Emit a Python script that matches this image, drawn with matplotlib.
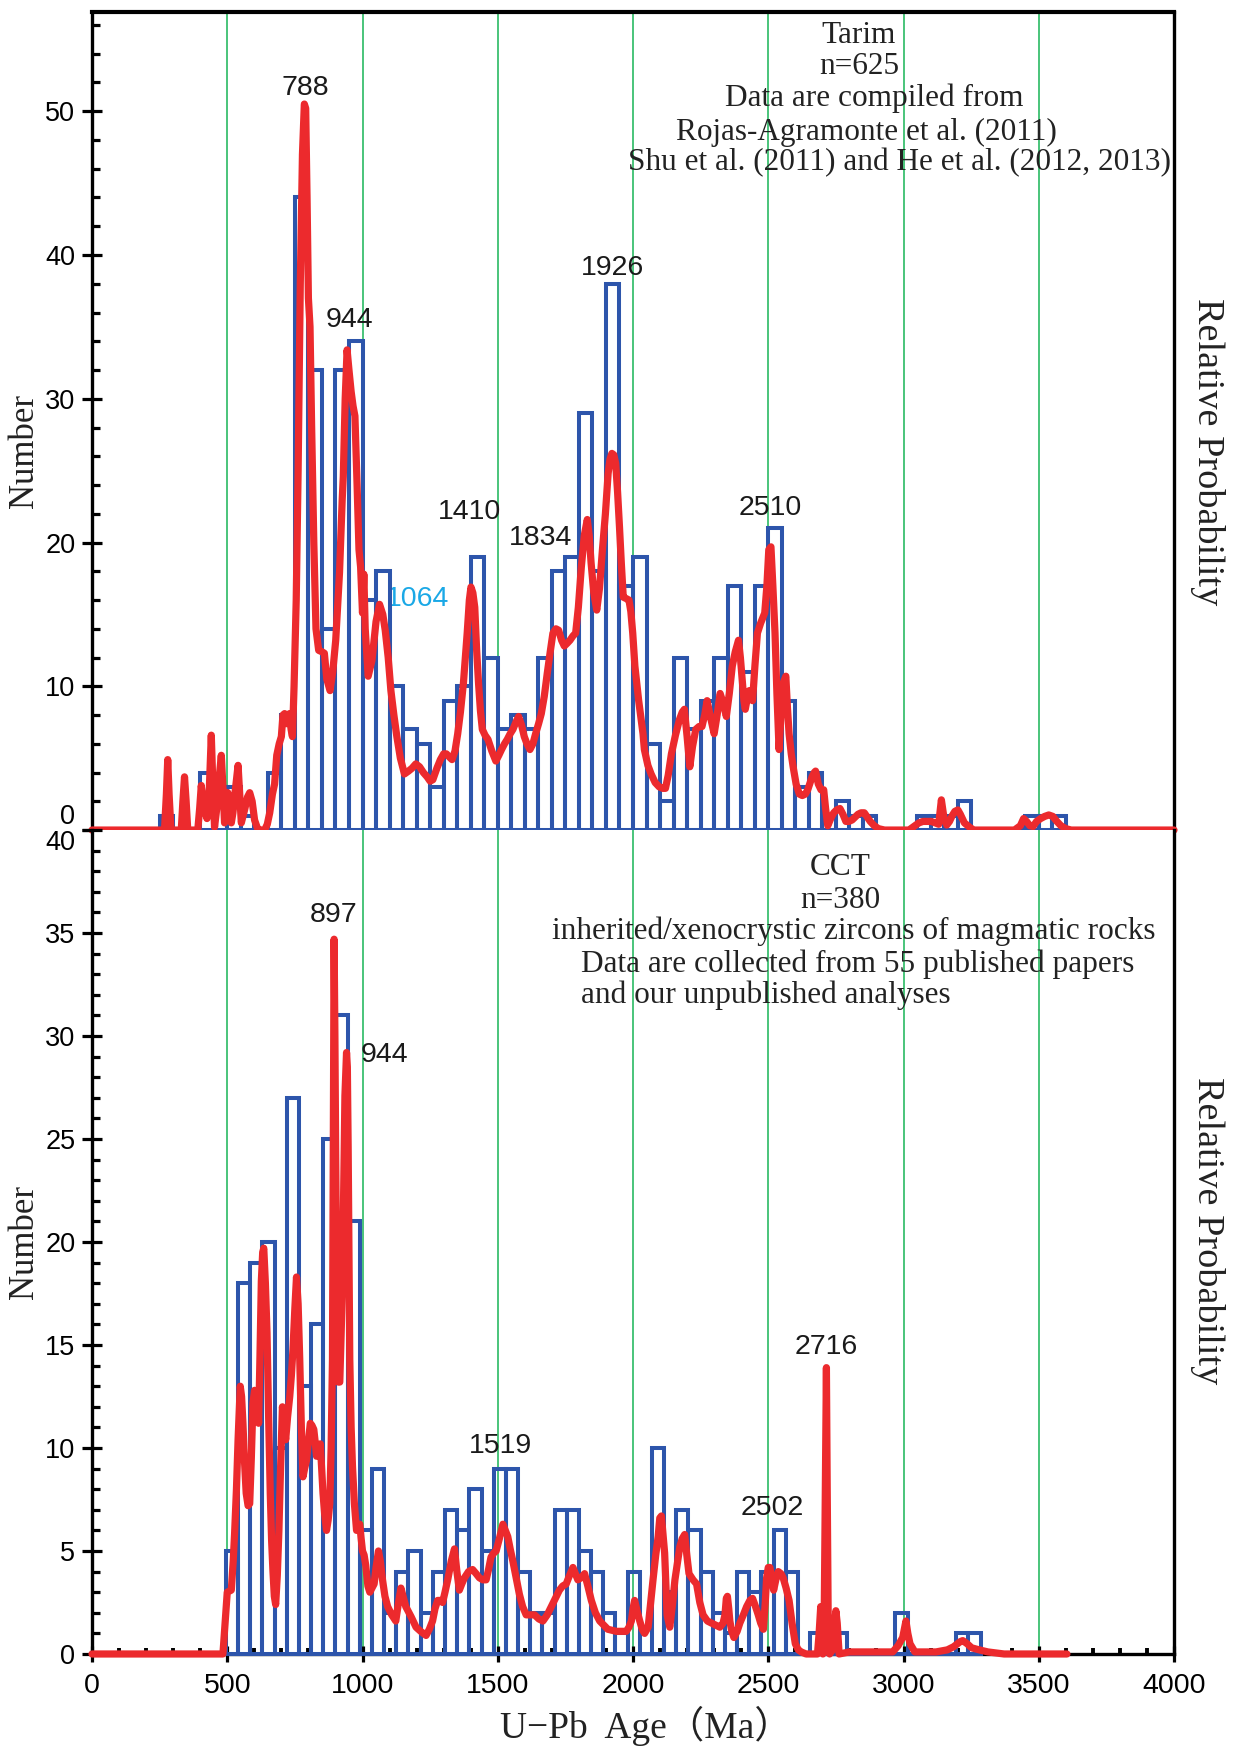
import numpy as np
import matplotlib.pyplot as plt
from matplotlib.ticker import MultipleLocator

# ------------------ DATA ------------------
# Tarim histogram: 50 Ma bins from 250 Ma
tarim_bin_start, tarim_bin_width = 250, 50
tarim_counts = [1, 0, 0, 4, 3, 3, 1, 0, 4, 8,
                44, 32, 14, 32, 34, 16, 18, 10, 7, 6,
                3, 9, 10, 19, 12, 7, 8, 7, 12, 18,
                19, 29, 18, 38, 17, 19, 6, 2, 12, 7,
                9, 12, 17, 11, 17, 21, 9, 3, 4, 1,
                2, 1, 1, 0, 0, 0, 1, 1, 1, 2,
                0, 0, 0, 0, 1, 1, 1]

# CCT histogram: 45 Ma bins from 495 Ma
cct_bin_start, cct_bin_width = 495, 45
cct_counts = [5, 18, 19, 20, 10, 27, 13, 16, 25, 31,
              21, 6, 9, 2, 4, 5, 2, 4, 7, 6,
              8, 5, 9, 9, 4, 2, 2, 7, 7, 5,
              4, 2, 1, 4, 0, 10, 3, 7, 6, 4,
              2, 1, 4, 3, 4, 6, 4, 0, 1, 1,
              1, 0, 0, 0, 0, 2, 0, 0, 0, 0,
              1, 1]

# probability curves (age Ma, value in count units)
tarim_pdf_age = [0, 268, 275, 280, 285, 292, 330, 336, 342, 348, 354, 391, 398, 404, 410, 416, 425, 434, 441, 447,
                 453, 465, 472, 478, 484, 490, 496, 502, 508, 515, 521, 527, 534, 540, 546, 552, 564, 575, 583, 592,
                 601, 612, 620, 638, 648, 657, 667, 675, 683, 692, 700, 706, 712, 719, 725, 730, 736, 741, 747, 755,
                 762, 770, 778, 785, 790, 795, 800, 806, 812, 820, 828, 838, 850, 859, 868, 880, 890, 901, 915, 925,
                 929, 936, 943, 950, 958, 965, 972, 980, 987, 993, 1000, 1005, 1010, 1021, 1035, 1050, 1063, 1075, 1084, 1095,
                 1105, 1116, 1127, 1140, 1155, 1170, 1183, 1197, 1211, 1225, 1239, 1250, 1260, 1275, 1288, 1300, 1310, 1320, 1331, 1342,
                 1352, 1362, 1373, 1387, 1395, 1401, 1408, 1415, 1422, 1429, 1436, 1443, 1453, 1464, 1478, 1493, 1504, 1514, 1525, 1535,
                 1546, 1556, 1567, 1577, 1588, 1598, 1608, 1619, 1630, 1640, 1651, 1661, 1672, 1683, 1694, 1704, 1715, 1725, 1736, 1746,
                 1757, 1767, 1778, 1788, 1798, 1809, 1820, 1831, 1838, 1845, 1855, 1866, 1876, 1887, 1898, 1908, 1915, 1922, 1929, 1936,
                 1943, 1950, 1957, 1964, 1975, 1985, 1992, 1999, 2007, 2021, 2037, 2042, 2055, 2067, 2082, 2097, 2110, 2120, 2130, 2142,
                 2157, 2172, 2182, 2190, 2200, 2210, 2220, 2232, 2244, 2255, 2265, 2274, 2287, 2300, 2311, 2322, 2334, 2345, 2356, 2367,
                 2378, 2390, 2397, 2405, 2410, 2415, 2423, 2430, 2436, 2442, 2451, 2460, 2472, 2487, 2495, 2502, 2510, 2517, 2525, 2532,
                 2540, 2547, 2555, 2565, 2571, 2577, 2585, 2592, 2603, 2615, 2626, 2637, 2646, 2655, 2662, 2670, 2675, 2685, 2695, 2705,
                 2712, 2720, 2731, 2742, 2753, 2765, 2776, 2787, 2798, 2810, 2821, 2832, 2843, 2855, 2866, 2877, 2892, 2907, 2930, 3020,
                 3042, 3057, 3072, 3087, 3102, 3117, 3130, 3140, 3150, 3160, 3170, 3180, 3190, 3201, 3210, 3225, 3244, 3260, 3410, 3432,
                 3444, 3455, 3467, 3479, 3492, 3507, 3522, 3537, 3552, 3567, 3582, 3600, 3620, 4000]
tarim_pdf_val = [0, 0, 2.5, 4.9, 2.5, 0, 0, 2.0, 3.7, 2.0, 0, 0, 1.5, 3.1, 2.0, 1.4, 0.8, 3.0, 6.6, 3.0,
                 0.2, 2.1, 4.0, 5.2, 3.0, 0.5, 1.5, 2.6, 1.5, 0.5, 1.2, 2.3, 3.5, 4.5, 2.5, 0.5, 1.4, 2.3, 2.6, 2.0,
                 0.7, 0.1, 0, 0, 0.4, 1.2, 2.5, 3.2, 5.2, 6.0, 6.5, 8.0, 8.1, 7.4, 7.7, 8.1, 7.0, 6.5, 10, 16,
                 25, 38, 47, 50.5, 50.2, 44, 37, 35, 28, 20, 14, 12.5, 12.4, 12.3, 10.5, 9.7, 11, 13.2, 17.9, 23,
                 24.6, 30, 33.4, 32, 30.5, 29.5, 28.8, 24, 19.5, 18.3, 15.1, 17.8, 14, 10.7, 11.8, 14.5, 15.7, 15, 13.9, 12,
                 9.7, 8.0, 6.5, 5.0, 3.9, 4.1, 4.3, 4.6, 4.4, 4.0, 3.7, 3.4, 3.5, 4.3, 4.9, 5.3, 5.3, 5.1, 4.9, 5.5,
                 6.7, 8.2, 10.2, 13.7, 16, 16.9, 16.5, 15.5, 12.5, 10.2, 8.3, 7.0, 6.6, 6.3, 5.5, 4.8, 5.2, 5.6, 6.0, 6.3,
                 6.7, 7.0, 7.5, 7.9, 7.3, 6.5, 6.0, 5.6, 6.0, 6.7, 7.4, 8.1, 9.3, 10.9, 12.4, 13.7, 14, 13.9, 13.2, 12.8,
                 13.0, 13.2, 13.5, 13.7, 15.5, 18.3, 20.5, 21.6, 20.5, 18.6, 16.5, 15.3, 16.8, 19.5, 22, 24.8, 25.8, 26.2, 26.1, 25.5,
                 23.5, 21.1, 18.5, 16.2, 16.1, 16.0, 15.2, 13.7, 11.4, 9.0, 6.7, 5.6, 4.5, 3.9, 3.3, 3.0, 2.9, 2.9, 3.8, 5.3,
                 6.6, 7.7, 8.2, 8.4, 6.5, 4.4, 5.8, 7.0, 7.2, 7.2, 8.0, 9.0, 7.8, 6.7, 8.0, 9.5, 8.8, 7.9, 9.5, 11.4,
                 12.4, 13.2, 12.0, 10.2, 9.0, 8.4, 9.2, 9.7, 9.5, 9.0, 11.5, 13.7, 14.4, 15.1, 17, 19.5, 19.7, 17, 13.7, 9.5,
                 5.6, 8.0, 10.2, 10.7, 8.5, 6.7, 5.3, 4.4, 3.2, 2.5, 2.4, 2.5, 2.8, 3.3, 3.7, 4.0, 4.1, 3.2, 2.8, 2.8,
                 1.5, 0.3, 0.8, 1.2, 1.4, 1.5, 1.1, 0.6, 0.6, 0.7, 0.9, 1.1, 1.2, 1.2, 0.9, 0.6, 0.3, 0.1, 0, 0,
                 0.3, 0.5, 0.6, 0.6, 0.6, 0.5, 0.4, 2.1, 0.8, 0.35, 0.6, 1.0, 1.3, 1.4, 1.1, 0.5, 0.2, 0, 0, 0.3,
                 0.8, 0.6, 0.3, 0.25, 0.6, 0.8, 0.95, 1.05, 0.95, 0.6, 0.3, 0.1, 0, 0]

cct_pdf_age = [0, 484, 492, 500, 515, 522, 527, 534, 540, 548, 553, 558, 564, 570, 577, 583, 589, 595, 601, 607,
               612, 616, 621, 626, 631, 635, 641, 647, 653, 659, 664, 669, 674, 679, 685, 691, 697, 704, 710, 716,
               723, 731, 737, 743, 750, 756, 762, 768, 774, 780, 786, 793, 800, 807, 813, 820, 825, 830, 837, 844,
               849, 854, 860, 867, 873, 879, 884, 889, 892, 895, 898, 901, 904, 907, 910, 916, 921, 926, 931, 935,
               941, 944, 947, 950, 953, 958, 963, 970, 978, 984, 990, 995, 1000, 1006, 1012, 1020, 1027, 1035, 1043, 1050,
               1059, 1066, 1074, 1083, 1093, 1108, 1123, 1132, 1142, 1150, 1160, 1180, 1198, 1215, 1235, 1247, 1259, 1268, 1278, 1287,
               1296, 1305, 1315, 1328, 1340, 1349, 1358, 1367, 1377, 1392, 1407, 1420, 1432, 1445, 1457, 1466, 1475, 1485, 1494, 1506,
               1519, 1528, 1537, 1546, 1556, 1568, 1580, 1592, 1605, 1620, 1636, 1652, 1667, 1683, 1698, 1713, 1728, 1740, 1753, 1765,
               1778, 1787, 1796, 1808, 1821, 1833, 1846, 1861, 1877, 1892, 1907, 1922, 1938, 1957, 1975, 1985, 1994, 2000, 2006, 2015,
               2025, 2034, 2043, 2056, 2066, 2074, 2084, 2093, 2099, 2105, 2111, 2117, 2122, 2126, 2136, 2146, 2155, 2165, 2173, 2182,
               2191, 2199, 2207, 2222, 2235, 2247, 2259, 2275, 2290, 2306, 2321, 2333, 2340, 2345, 2349, 2354, 2358, 2365, 2373, 2385,
               2395, 2408, 2420, 2432, 2442, 2453, 2463, 2472, 2482, 2489, 2494, 2500, 2506, 2514, 2520, 2528, 2537, 2547, 2555, 2566,
               2577, 2588, 2600, 2611, 2622, 2640, 2682, 2688, 2694, 2698, 2702, 2707, 2711, 2715, 2718, 2722, 2727, 2738, 2745, 2750,
               2755, 2762, 2800, 2960, 2980, 2997, 3003, 3009, 3016, 3024, 3042, 3120, 3162, 3185, 3200, 3210, 3219, 3235, 3252, 3280,
               3312, 3372, 3604]
cct_pdf_val = [0, 0, 1.5, 3.0, 3.1, 4.5, 5.8, 8.0, 10.4, 13.0, 12.5, 11.2, 9.3, 7.8, 7.2, 7.3, 9.5, 12.2, 12.8, 12.7,
               12.0, 11.2, 14.5, 18.1, 19.5, 19.7, 18.0, 15.6, 11.5, 7.8, 5.5, 4.0, 2.8, 2.4, 3.8, 6.0, 9.0, 12.0, 11.2, 10.4,
               11.5, 12.5, 13.5, 14.8, 16.8, 18.3, 17.0, 14.3, 11.0, 8.6, 9.0, 9.4, 10.3, 11.2, 11.1, 10.9, 10.3, 9.6, 9.9, 10.2,
               9.0, 7.8, 6.8, 6.0, 6.5, 7.3, 10.0, 14.3, 25.0, 34.7, 30.0, 24.0, 19.4, 15.5, 13.2, 13.2, 15.5, 18.1, 23.0, 27.1,
               29.2, 28.5, 24.6, 19.5, 14.3, 11.0, 9.1, 7.3, 6.0, 6.1, 6.3, 5.6, 5.0, 4.8, 4.3, 3.3, 3.0, 3.2, 3.4, 4.2,
               5.0, 4.5, 3.6, 2.8, 2.3, 1.9, 1.6, 2.4, 3.2, 2.8, 2.3, 1.8, 1.3, 1.1, 0.9, 1.2, 1.6, 2.2, 2.6, 2.6,
               2.5, 3.0, 3.6, 4.5, 5.1, 4.0, 3.1, 3.4, 3.7, 4.0, 4.1, 3.9, 3.7, 3.6, 3.6, 4.1, 4.7, 4.9, 5.0, 5.6,
               6.3, 6.0, 5.7, 5.1, 4.5, 3.7, 2.9, 2.3, 1.9, 1.9, 1.9, 1.7, 1.6, 1.9, 2.3, 2.7, 3.1, 3.3, 3.4, 3.8,
               4.2, 3.9, 3.6, 3.7, 3.9, 3.3, 2.6, 2.0, 1.6, 1.4, 1.2, 1.15, 1.1, 1.1, 1.1, 1.3, 1.6, 2.2, 2.6, 2.1,
               1.6, 1.2, 1.0, 1.3, 2.6, 3.6, 4.8, 5.7, 6.6, 6.7, 5.8, 4.9, 3.3, 1.9, 1.3, 2.4, 3.6, 4.5, 5.2, 5.6,
               5.8, 4.8, 3.9, 3.6, 3.4, 2.5, 1.9, 1.6, 1.5, 1.4, 1.3, 1.5, 1.9, 2.7, 2.8, 2.2, 1.6, 1.1, 0.8, 1.1,
               1.5, 1.9, 2.3, 2.6, 2.7, 2.3, 1.9, 1.5, 1.2, 2.5, 3.7, 4.2, 4.2, 3.6, 3.1, 3.6, 4.0, 3.9, 3.7, 3.2,
               2.6, 1.5, 0.5, 0.2, 0.1, 0, 0, 1.0, 2.3, 1.0, 0, 2.0, 8.0, 13.9, 8.0, 1.0, 0, 0.2, 1.5, 2.1,
               1.5, 0, 0.1, 0.1, 0.4, 0.8, 1.2, 1.6, 1.0, 0.5, 0.1, 0.1, 0.2, 0.35, 0.5, 0.6, 0.65, 0.5, 0.3, 0.2,
               0.1, 0, 0]

# peak labels
tarim_peak_text = ["788", "944", "1064", "1410", "1834", "1926", "2510"]
tarim_peak_x = [790, 952, 1202, 1397, 1658, 1926, 2507]
tarim_peak_y = [51.6, 35.5, 16.1, 22.1, 20.3, 39.1, 22.4]

cct_peak_text = ["897", "944", "1519", "2502", "2716"]
cct_peak_x = [893, 1081, 1511, 2515, 2713]
cct_peak_y = [35.9, 29.1, 10.1, 7.1, 14.9]

guide_ages = [500, 1000, 1500, 2000, 2500, 3000, 3500]

# ------------------ STYLE ------------------
BLUE = "#2d55ab"
RED = "#ec2a2d"
GREEN = "#3cbf70"
CYAN = "#1aa8e6"
SERIF = ["Liberation Serif", "DejaVu Serif"]
SANS = ["Liberation Sans", "DejaVu Sans"]

fig = plt.figure(figsize=(12.34, 17.46), dpi=100)
ax1 = fig.add_axes([92 / 1234, 0.5246, 1082 / 1234, 0.4685])
ax2 = fig.add_axes([92 / 1234, 0.0527, 1082 / 1234, 0.4719])


def draw_panel(ax, start, width, counts, pdf_x, pdf_y):
    edges = start + width * np.arange(len(counts))
    for g in guide_ages:
        ax.axvline(g, color=GREEN, lw=1.3, zorder=1)
    ax.bar(edges, counts, width=width, align="edge", fill=False,
           edgecolor=BLUE, linewidth=2.9, zorder=3, clip_on=False)
    ax.plot(pdf_x, pdf_y, color=RED, lw=5.2, zorder=4,
            solid_joinstyle="round", solid_capstyle="round", clip_on=False)
    ax.set_xlim(0, 4000)
    for s in ax.spines.values():
        s.set_linewidth(2.4)
    ax.yaxis.set_ticks_position("left")
    ax.tick_params(axis="y", which="major", direction="inout", length=14,
                   width=2.3, labelsize=19.5, pad=5)
    ax.tick_params(axis="y", which="minor", direction="in", length=6, width=2.3)


draw_panel(ax1, tarim_bin_start, tarim_bin_width, tarim_counts, tarim_pdf_age, tarim_pdf_val)
draw_panel(ax2, cct_bin_start, cct_bin_width, cct_counts, cct_pdf_age, cct_pdf_val)

# top panel axes
ax1.set_ylim(0, 56.9)
ax1.set_yticks([0, 10, 20, 30, 40, 50])
ax1.yaxis.set_minor_locator(MultipleLocator(2))
ax1.spines["bottom"].set_visible(False)
ax1.spines["top"].set_linewidth(3)
ax1.tick_params(axis="x", which="both", bottom=False, top=False, labelbottom=False)

# bottom panel axes
ax2.set_ylim(0, 40)
ax2.set_yticks([0, 5, 10, 15, 20, 25, 30, 35, 40])
ax2.yaxis.set_minor_locator(MultipleLocator(1))
ax2.spines["top"].set_visible(False)
ax2.set_xticks(np.arange(0, 4001, 500))
ax2.xaxis.set_minor_locator(MultipleLocator(100))
ax2.xaxis.set_ticks_position("bottom")
ax2.tick_params(axis="x", which="major", direction="inout", length=12,
                width=2.3, labelsize=20.5, pad=8)
ax2.tick_params(axis="x", which="minor", direction="in", length=4, width=2.8)

for ax in (ax1, ax2):
    for lab in ax.get_yticklabels() + ax.get_xticklabels():
        lab.set_family(SANS)

# keep "0" (top) and "40" (bottom) from colliding at the seam
ax1.yaxis.get_major_ticks()[0].label1.set_va("bottom")
ax2.yaxis.get_major_ticks()[-1].label1.set_va("top")

# peak labels
for t, x, y in zip(tarim_peak_text, tarim_peak_x, tarim_peak_y):
    ax1.text(x, y, t, ha="center", va="center", fontsize=20.5, family=SANS,
             color=CYAN if t == "1064" else "#1a1a1a", zorder=2)
for t, x, y in zip(cct_peak_text, cct_peak_x, cct_peak_y):
    ax2.text(x, y, t, ha="center", va="center", fontsize=20.5, family=SANS,
             color="#1a1a1a", zorder=2)

# notes
note_kw = dict(fontsize=22.5, family=SERIF, color="#222222", va="center", zorder=2)
ax1.text(2835, 55.3, "Tarim", ha="center", **note_kw)
ax1.text(2835, 53.1, "n=625", ha="center", **note_kw)
ax1.text(2893, 50.9, "Data are compiled from", ha="center", **note_kw)
ax1.text(2864, 48.5, "Rojas-Agramonte et al. (2011)", ha="center", **note_kw)
ax1.text(2985, 46.4, "Shu et al. (2011) and He et al. (2012, 2013)", ha="center", **note_kw)

ax2.text(2765, 38.2, "CCT", ha="center", **note_kw)
ax2.text(2765, 36.6, "n=380", ha="center", **note_kw)
ax2.text(1702, 35.1, "inherited/xenocrystic zircons of magmatic rocks", ha="left", **note_kw)
ax2.text(1809, 33.5, "Data are collected from 55 published papers", ha="left", **note_kw)
ax2.text(1809, 32.0, "and our unpublished analyses", ha="left", **note_kw)

# axis titles
lab_kw = dict(family=SERIF, color="#222222", ha="center", va="center")
fig.text(25 / 1234, 1 - 451 / 1746, "Number", rotation=90, fontsize=25, **lab_kw)
fig.text(25 / 1234, 1 - 1242 / 1746, "Number", rotation=90, fontsize=25, **lab_kw)
fig.text(1207 / 1234, 1 - 452 / 1746, "Relative Probability", rotation=270, fontsize=27.5, **lab_kw)
fig.text(1207 / 1234, 1 - 1231 / 1746, "Relative Probability", rotation=270, fontsize=27.5, **lab_kw)
fig.text(646 / 1234, 1 - 1726 / 1746, "U\u2212Pb  Age\uff08Ma\uff09", fontsize=27,
         family=["Liberation Serif", "Noto Sans CJK SC"], color="#222222",
         ha="center", va="center")

fig.savefig("out.png", dpi=100)
